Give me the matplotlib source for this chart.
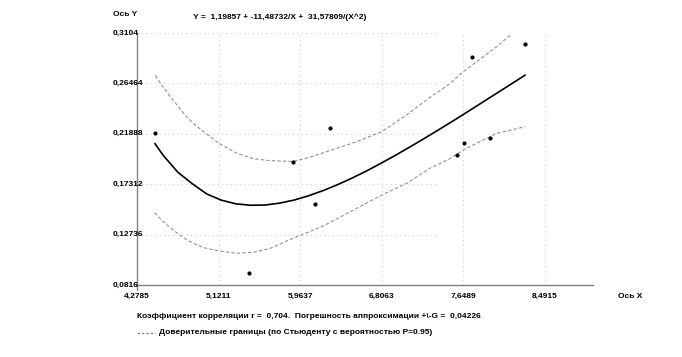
import matplotlib
matplotlib.use('Agg')
import matplotlib.pyplot as plt
from matplotlib.lines import Line2D

# data
x_pts = [4.464, 5.438, 5.886, 6.120, 6.271, 7.586, 7.658, 7.734, 7.927, 8.285]
y_pts = [0.2193, 0.0922, 0.1933, 0.1549, 0.2239, 0.1996, 0.2103, 0.2884, 0.2151, 0.3001]

# fitted curve Y = 1,19857 + -11,48732/X + 31,57809/(X^2)
curve_x = [4.464, 4.55, 4.7, 4.85, 5.0, 5.15, 5.3, 5.45, 5.6, 5.75, 5.9, 6.05, 6.2, 6.35,
           6.5, 6.65, 6.8, 6.95, 7.1, 7.25, 7.4, 7.55, 7.7, 7.85, 8.0, 8.15, 8.285]
curve_y = [0.2099, 0.1992, 0.1840, 0.1735, 0.1642, 0.1586, 0.1553, 0.1540, 0.1542, 0.1559,
           0.1587, 0.1626, 0.1673, 0.1727, 0.1787, 0.1852, 0.1922, 0.1995, 0.2071, 0.2149,
           0.2229, 0.2310, 0.2393, 0.2477, 0.2561, 0.2645, 0.2721]

# confidence bands (dashed)
upper_x = [4.467, 4.545, 4.622, 4.71, 4.795, 4.88, 4.967, 5.122, 5.311, 5.483, 5.655, 5.886,
           6.05, 6.202, 6.547, 6.805, 7.063, 7.304, 7.503, 7.648, 7.993, 8.147]
upper_y = [0.2716, 0.2619, 0.2526, 0.2430, 0.2339, 0.2268, 0.2208, 0.2103, 0.2012, 0.1962,
           0.1945, 0.1938, 0.1972, 0.2017, 0.2117, 0.2208, 0.2360, 0.2520, 0.2640, 0.2753,
           0.2980, 0.3095]
lower_x = [4.461, 4.54, 4.622, 4.71, 4.795, 4.88, 4.967, 5.122, 5.311, 5.483, 5.655, 5.870,
           6.03, 6.202, 6.547, 6.805, 7.063, 7.304, 7.503, 7.648, 7.993, 8.285]
lower_y = [0.1472, 0.1400, 0.1336, 0.1276, 0.1225, 0.1186, 0.1155, 0.1125, 0.1104, 0.1113,
           0.1149, 0.1233, 0.1290, 0.1352, 0.1512, 0.1633, 0.1739, 0.1876, 0.1960, 0.2042,
           0.2193, 0.2253]

xticks = [4.2785, 5.1211, 5.9637, 6.8063, 7.6489, 8.4915]
xtick_labels = ['4,2785', '5,1211', '5,9637', '6,8063', '7,6489', '8,4915']
yticks = [0.0816, 0.12736, 0.17312, 0.21888, 0.26464, 0.3104]
ytick_labels = ['0,0816', '0,12736', '0,17312', '0,21888', '0,26464', '0,3104']

plt.rcParams['font.family'] = ['Liberation Sans', 'DejaVu Sans']
plt.rcParams['font.weight'] = 'bold'
fs = 6

W, H = 682, 357
fig = plt.figure(figsize=(W / 100, H / 100), dpi=100)
ax = fig.add_axes([137 / W, 1 - 285 / H, (593 - 137) / W, (285 - 33) / H])

ax.set_xlim(4.2785, 8.9872)
ax.set_ylim(0.0816, 0.3104)

# grid: vertical full height, horizontal only part way
for xv in xticks[1:]:
    ax.axvline(xv, color='#cccccc', lw=0.8, ls=(0, (1, 3)), zorder=0)
for yv in yticks[1:]:
    ax.axhline(yv, xmin=0, xmax=(438 - 137) / 456, color='#cccccc', lw=0.8,
               ls=(0, (1, 3)), zorder=0)

ax.plot(upper_x, upper_y, color='#909090', lw=0.8, ls=(0, (3, 2)))
ax.plot(lower_x, lower_y, color='#909090', lw=0.8, ls=(0, (3, 2)))
ax.plot(curve_x, curve_y, color='black', lw=1.2)
ax.scatter(x_pts, y_pts, s=4, color='black', zorder=3)

for s in ['top', 'right']:
    ax.spines[s].set_visible(False)
for s in ['left', 'bottom']:
    ax.spines[s].set_color('#808080')
    ax.spines[s].set_linewidth(1.0)
ax.set_xticks([])
ax.set_yticks([])
ax.plot([0, 0], [0, -0.02], transform=ax.transAxes, color='#808080', lw=1.0, clip_on=False)

# tick labels
for xv, lab in zip(xticks, xtick_labels):
    ax.text(xv, -0.045, lab, transform=ax.get_xaxis_transform(), ha='center', va='center',
            fontsize=fs, fontweight='bold')
for yv, lab in zip(yticks, ytick_labels):
    ax.text(-24 / 456, yv, lab, transform=ax.get_yaxis_transform(), ha='left', va='center',
            fontsize=fs, fontweight='bold')

fig.text(113 / W, 1 - 14 / H, 'Ось Y', fontsize=fs, fontweight='bold', va='center')
fig.text(618 / W, 1 - 297 / H, 'Ось X', fontsize=fs, fontweight='bold', va='center')
fig.text(193 / W, 1 - 17 / H, 'Y =  1,19857 + -11,48732/X +  31,57809/(X^2)',
         fontsize=fs, fontweight='bold', va='center')
fig.text(137 / W, 1 - 316 / H,
         'Коэффициент корреляции r =  0,704.  Погрешность аппроксимации +\\-G =  0,04226',
         fontsize=fs, fontweight='bold', va='center')
fig.add_artist(Line2D([137 / W, 155 / W], [1 - 333 / H, 1 - 333 / H], color='#808080',
                      lw=0.9, ls=(0, (2, 1.5))))
fig.text(159 / W, 1 - 333 / H, 'Доверительные границы (по Стьюденту с вероятностью P=0.95)',
         fontsize=fs, fontweight='bold', va='center')

fig.savefig('out.png', dpi=100, facecolor='white')
